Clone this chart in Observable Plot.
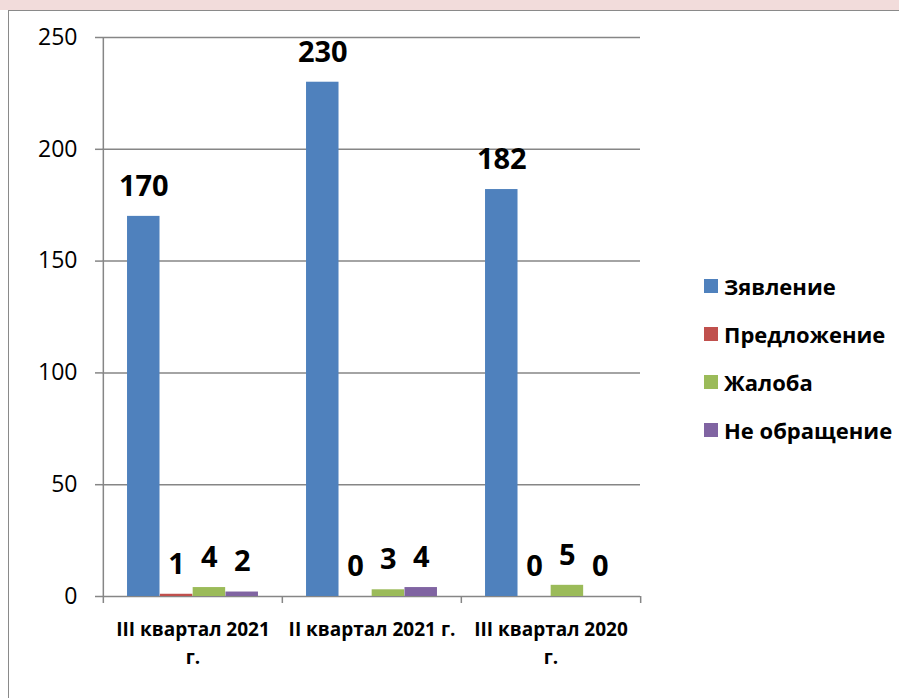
<!DOCTYPE html>
<html>
<head>
<meta charset="utf-8">
<script src="https://cdn.jsdelivr.net/npm/d3@7"></script>
<script src="https://cdn.jsdelivr.net/npm/@observablehq/plot@0.6"></script>
<style>
  html, body { margin: 0; padding: 0; background: #fff; }
  #wrap { position: relative; width: 899px; height: 698px; overflow: hidden; font-family: "Open Sans", "Noto Sans", sans-serif; }
  #band { position: absolute; left: 0; top: 0; width: 899px; height: 10px; background: #f2dcdb; }
  #border { position: absolute; left: 8px; top: 10px; width: 900px; height: 700px; border-top: 1.5px solid #8a8a8a; border-left: 1.5px solid #8a8a8a; box-sizing: border-box; }
  #chart { position: absolute; left: 0; top: 0; }
  #legend { position: absolute; left: 704px; top: 262px; }
  .item { display: flex; align-items: center; height: 48px; font-weight: bold; font-size: 22px; color: #000; }
  .sw { width: 14px; height: 14px; margin-right: 6px; }
</style>
</head>
<body>
<div id="wrap">
  <div id="band"></div>
  <div id="border"></div>
  <div id="chart"></div>
  <div id="legend"></div>
</div>
<script>
const categories = ["III квартал 2021 г.", "II квартал 2021 г.", "III квартал 2020 г."];
const tickLabels = ["III квартал 2021\nг.", "II квартал 2021 г.", "III квартал 2020\nг."];
const seriesNames = ["Зявление", "Предложение", "Жалоба", "Не обращение"];
const zayavlenie = [170, 230, 182];
const predlozhenie = [1, 0, 0];
const zhaloba = [4, 3, 5];
const neObrashchenie = [2, 4, 0];
const colors = ["#4f81bd", "#c0504d", "#9bbb59", "#8064a2"];
const yTicks = [0, 50, 100, 150, 200, 250];

const seriesValues = [zayavlenie, predlozhenie, zhaloba, neObrashchenie];
const W = 899, H = 698;
const mL = 102, mR = 259, mT = 37, mB = 102;
const bw = (W - mL - mR) / categories.length;
const slot = bw * 0.183;
const off0 = (bw - slot * 4) / 2;
const plotH = H - mT - mB;
const gray = "#868686";

const rows = seriesValues.map((vals, i) => categories.map((c, j) => ({cat: c, value: vals[j], series: seriesNames[i]})));

const marks = [
  Plot.gridY(yTicks, {stroke: gray, strokeOpacity: 1, strokeWidth: 1.5}),
  Plot.axisY(yTicks, {label: null, tickSize: 7, tickPadding: 18, fontSize: 23, stroke: gray, strokeWidth: 1.5, fill: "#000", tickFormat: d => d}),
  Plot.axisX({label: null, tickSize: 0, tickPadding: 20, fontSize: 19, fontWeight: "bold", lineHeight: 1.47, fill: "#000",
    tickFormat: d => tickLabels[categories.indexOf(d)]}),
];
rows.forEach((data, i) => {
  const inL = off0 + slot * i;
  const inR = bw - off0 - slot * (i + 1);
  marks.push(Plot.barY(data, {x: "cat", y: "value", fill: colors[i], insetLeft: inL, insetRight: inR}));
});
marks.push(Plot.ruleX([categories[0]], {dx: -bw / 2, insetBottom: -7, stroke: gray, strokeWidth: 1.5}));
marks.push(Plot.ruleX(categories.slice(1), {dx: -bw / 2, insetTop: plotH, insetBottom: -7, stroke: gray, strokeWidth: 1.5}));
marks.push(Plot.ruleX([categories[categories.length - 1]], {dx: bw / 2, insetTop: plotH, insetBottom: -7, stroke: gray, strokeWidth: 1.5}));
rows.forEach((data, i) => {
  const dx = -bw / 2 + off0 + slot * (i + 0.5);
  marks.push(Plot.text(data, {x: "cat", y: "value", text: d => String(d.value), dx, dy: -30, fontSize: 29, fontWeight: "bold", fill: "#000"}));
});

const chart = Plot.plot({
  width: W, height: H,
  marginLeft: mL, marginRight: mR, marginTop: mT, marginBottom: mB,
  style: {background: "transparent", fontFamily: "'Open Sans', 'Noto Sans', sans-serif", color: "#000"},
  x: {domain: categories, padding: 0, axis: null, label: null},
  y: {domain: [0, 250], axis: null, label: null},
  marks
});
document.getElementById("chart").appendChild(chart);

const legend = document.getElementById("legend");
seriesNames.forEach((name, i) => {
  const it = document.createElement("div");
  it.className = "item";
  const sw = document.createElement("span");
  sw.className = "sw";
  sw.style.background = colors[i];
  const t = document.createElement("span");
  t.textContent = name;
  it.appendChild(sw); it.appendChild(t);
  legend.appendChild(it);
});
</script>
</body>
</html>
